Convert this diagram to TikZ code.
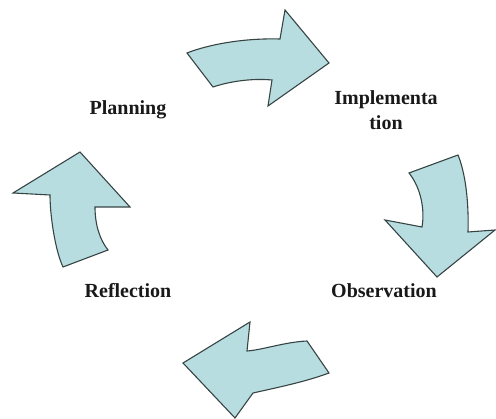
\documentclass[tikz,border=0pt]{standalone}
\usepackage{fontspec}
\setmainfont{Liberation Serif}
\begin{document}
\begin{tikzpicture}[x=1pt,y=-1pt,
  arrowshape/.style={fill=arrowfill,draw=arrowline,line width=1.1pt,line join=miter},
  lbl/.style={font=\bfseries\fontsize{20}{25}\selectfont,text=black!90,align=center,inner sep=0pt}]
\definecolor{arrowfill}{RGB}{183,221,224}
\definecolor{arrowline}{RGB}{55,68,68}
\useasboundingbox (0,0) rectangle (496,419);
% top arrow
\draw[arrowshape] (187,53) .. controls (210,44) and (245,38) .. (280,39)
  -- (285,10) -- (329,63) -- (268,106) -- (272,80)
  .. controls (250,78) and (228,82) .. (213,87) -- cycle;
% right arrow
\draw[arrowshape] (409,173) -- (458,155) .. controls (465,172) and (469,200) .. (468,232)
  -- (495,230) -- (437,277) -- (385,220) -- (422,227)
  .. controls (425,210) and (421,188) .. (409,173) -- cycle;
% bottom arrow
\draw[arrowshape] (329,373) -- (307,341) .. controls (285,342) and (262,350) .. (247,351)
  -- (250,322) -- (183,363) -- (235,418) -- (253,393)
  .. controls (275,388) and (305,382) .. (329,373) -- cycle;
% left arrow
\draw[arrowshape] (80,152) -- (130,207) -- (95,207)
  .. controls (95,225) and (100,240) .. (108,250) -- (63,267)
  .. controls (55,250) and (50,215) .. (50,195) -- (13,193) -- cycle;
% labels
\node[lbl] (planning) at (128,110) {Planning};
\node[lbl] (impl) at (386,110) {Implementa\\tion};
\node[lbl] (obs) at (384,291) {Observation};
\node[lbl] (refl) at (128,291) {Reflection};
\end{tikzpicture}
\end{document}
